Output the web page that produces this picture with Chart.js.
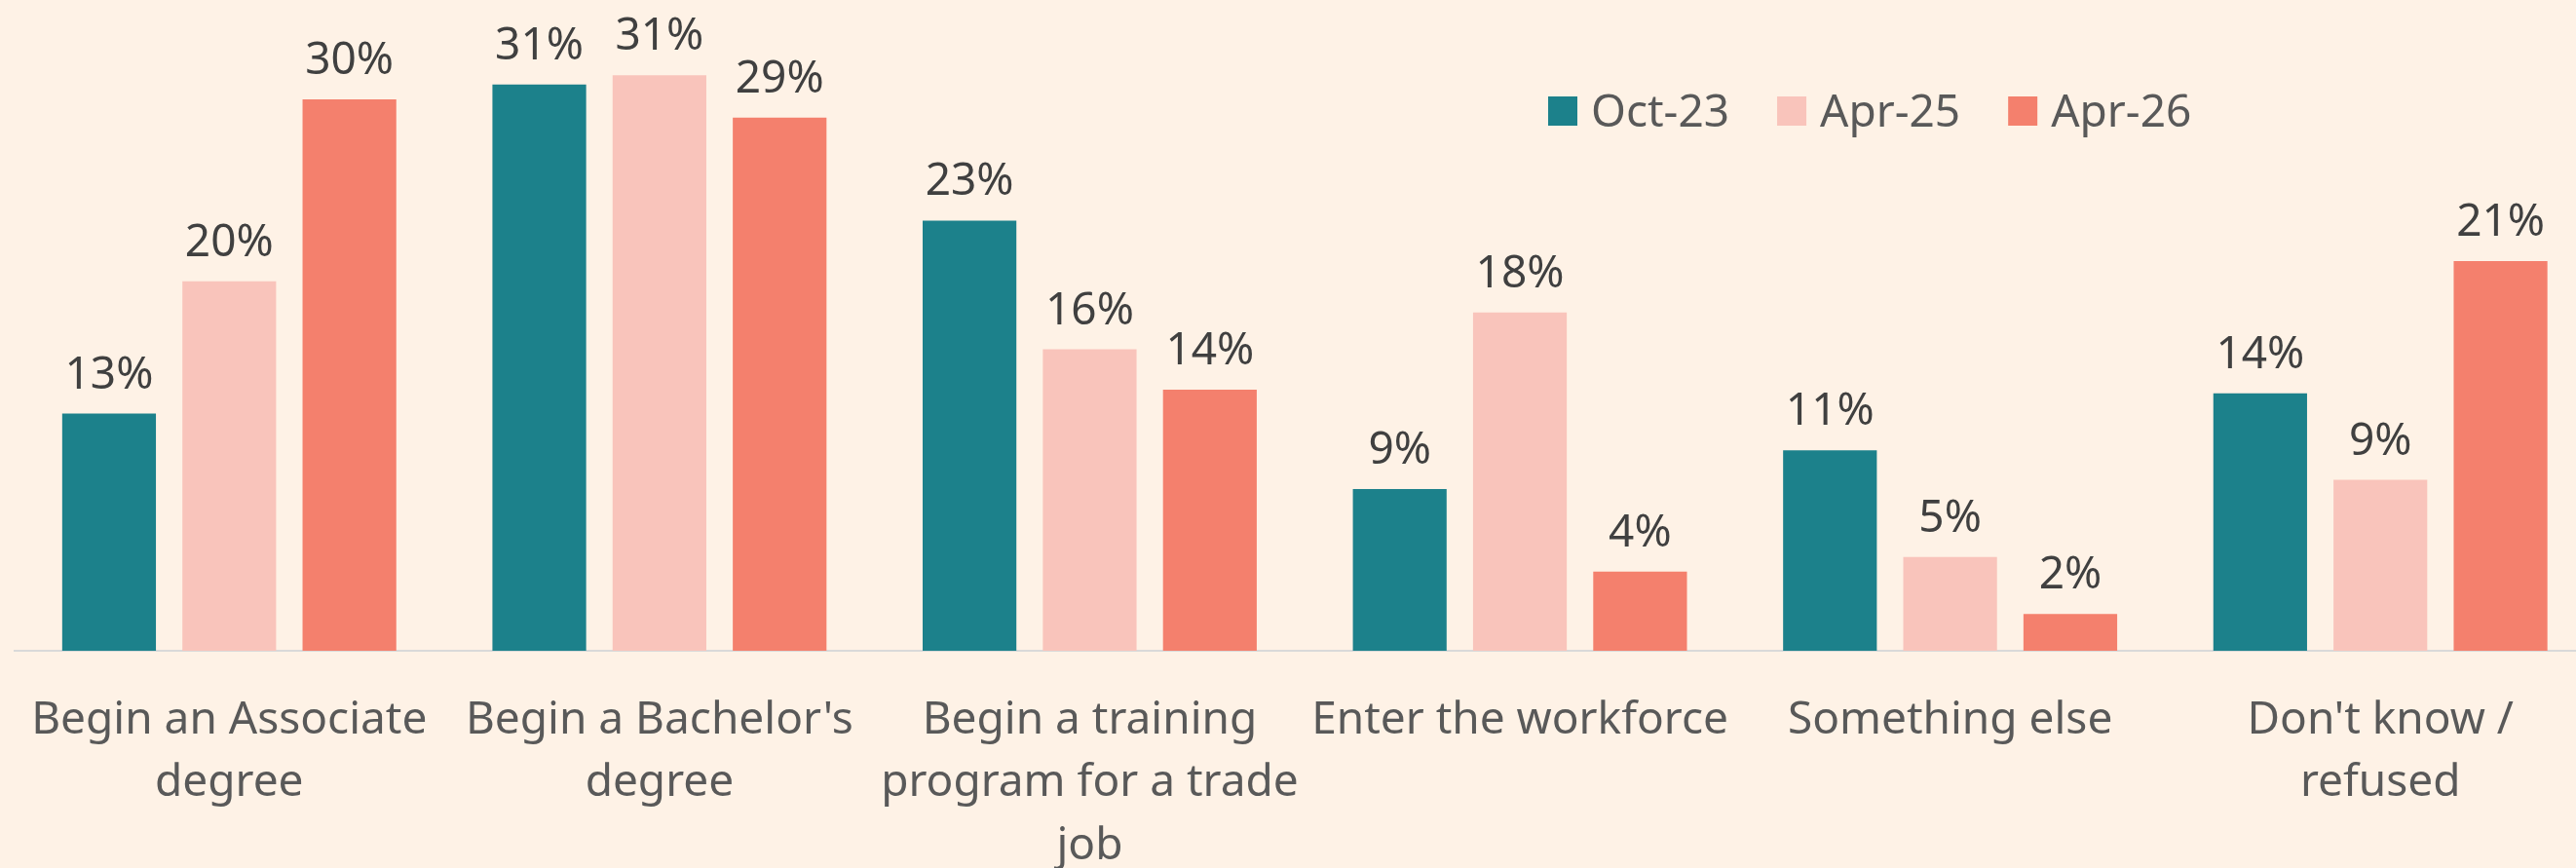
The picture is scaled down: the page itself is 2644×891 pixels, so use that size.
<!DOCTYPE html>
<html>
<head>
<meta charset="utf-8">
<script src="https://cdn.jsdelivr.net/npm/chart.js@4.4.1/dist/chart.umd.min.js"></script>
<style>
  html, body { margin: 0; padding: 0; background: #fef2e6; overflow: hidden; }
  #wrap { width: 2664px; height: 891px; }
</style>
</head>
<body>
<div id="wrap"><canvas id="chart"></canvas></div>
<script>
const categories = [
    ['Begin an Associate', 'degree'],
    ["Begin a Bachelor's", 'degree'],
    ['Begin a training', 'program for a trade', 'job'],
    'Enter the workforce',
    'Something else',
    ["Don't know /", 'refused']
];
const seriesNames = ['Oct-23', 'Apr-25', 'Apr-26'];
const oct23 = [12.9, 30.8, 23.4, 8.8, 10.9, 14.0];
const apr25 = [20.1, 31.3, 16.4, 18.4, 5.1, 9.3];
const apr26 = [30.0, 29.0, 14.2, 4.3, 2.0, 21.2];
const colors = ['#1c818b', '#f9c4bb', '#f4806d'];

const FONT = '"Noto Sans", "Open Sans", sans-serif';

// value labels above each bar
const barLabels = {
    id: 'barLabels',
    afterDatasetsDraw(chart) {
        const ctx = chart.ctx;
        ctx.save();
        ctx.font = '46px ' + FONT;
        ctx.fillStyle = '#404040';
        ctx.textAlign = 'center';
        ctx.textBaseline = 'alphabetic';
        chart.data.datasets.forEach((ds, i) => {
            const meta = chart.getDatasetMeta(i);
            meta.data.forEach((bar, j) => {
                ctx.fillText(Math.round(ds.data[j]) + '%', bar.x, bar.y - 26);
            });
        });
        ctx.restore();
    }
};

// legend drawn inside the plot, top right
const insideLegend = {
    id: 'insideLegend',
    afterDraw(chart) {
        const ctx = chart.ctx;
        ctx.save();
        ctx.font = '46px ' + FONT;
        ctx.textBaseline = 'alphabetic';
        ctx.textAlign = 'left';
        let x = 1589;
        const top = 99;
        chart.data.datasets.forEach(ds => {
            ctx.fillStyle = ds.backgroundColor;
            ctx.fillRect(x, top, 30, 30);
            ctx.fillStyle = '#595959';
            ctx.fillText(ds.label, x + 44, top + 31);
            x += 44 + ctx.measureText(ds.label).width + 49;
        });
        ctx.restore();
    }
};

const canvas = document.getElementById('chart');
canvas.width = 2664;
canvas.height = 891;
canvas.style.width = '2664px';
canvas.style.height = '891px';

new Chart(canvas.getContext('2d'), {
    type: 'bar',
    data: {
        labels: categories,
        datasets: [
            { label: seriesNames[0], data: oct23, backgroundColor: colors[0] },
            { label: seriesNames[1], data: apr25, backgroundColor: colors[1] },
            { label: seriesNames[2], data: apr26, backgroundColor: colors[2] }
        ]
    },
    options: {
        responsive: false,
        animation: false,
        devicePixelRatio: 1,
        layout: { padding: { left: 14.5, right: 0, top: 0, bottom: 0 } },
        datasets: {
            bar: { barPercentage: 0.78, categoryPercentage: 0.838, borderWidth: 0 }
        },
        scales: {
            x: {
                grid: { display: false, drawTicks: false },
                border: { display: true, color: '#d9d9d9', width: 2 },
                ticks: {
                    color: '#595959',
                    font: { family: FONT, size: 46, lineHeight: 1.41 },
                    padding: 39,
                    maxRotation: 0,
                    autoSkip: false
                },
                afterFit(scale) {
                    scale.height = 223;
                    scale.paddingLeft = 0;
                    scale.paddingRight = 0;
                }
            },
            y: {
                display: false,
                min: 0,
                max: 35.4
            }
        },
        plugins: {
            legend: { display: false },
            tooltip: { enabled: false }
        }
    },
    plugins: [barLabels, insideLegend]
});
</script>
</body>
</html>
